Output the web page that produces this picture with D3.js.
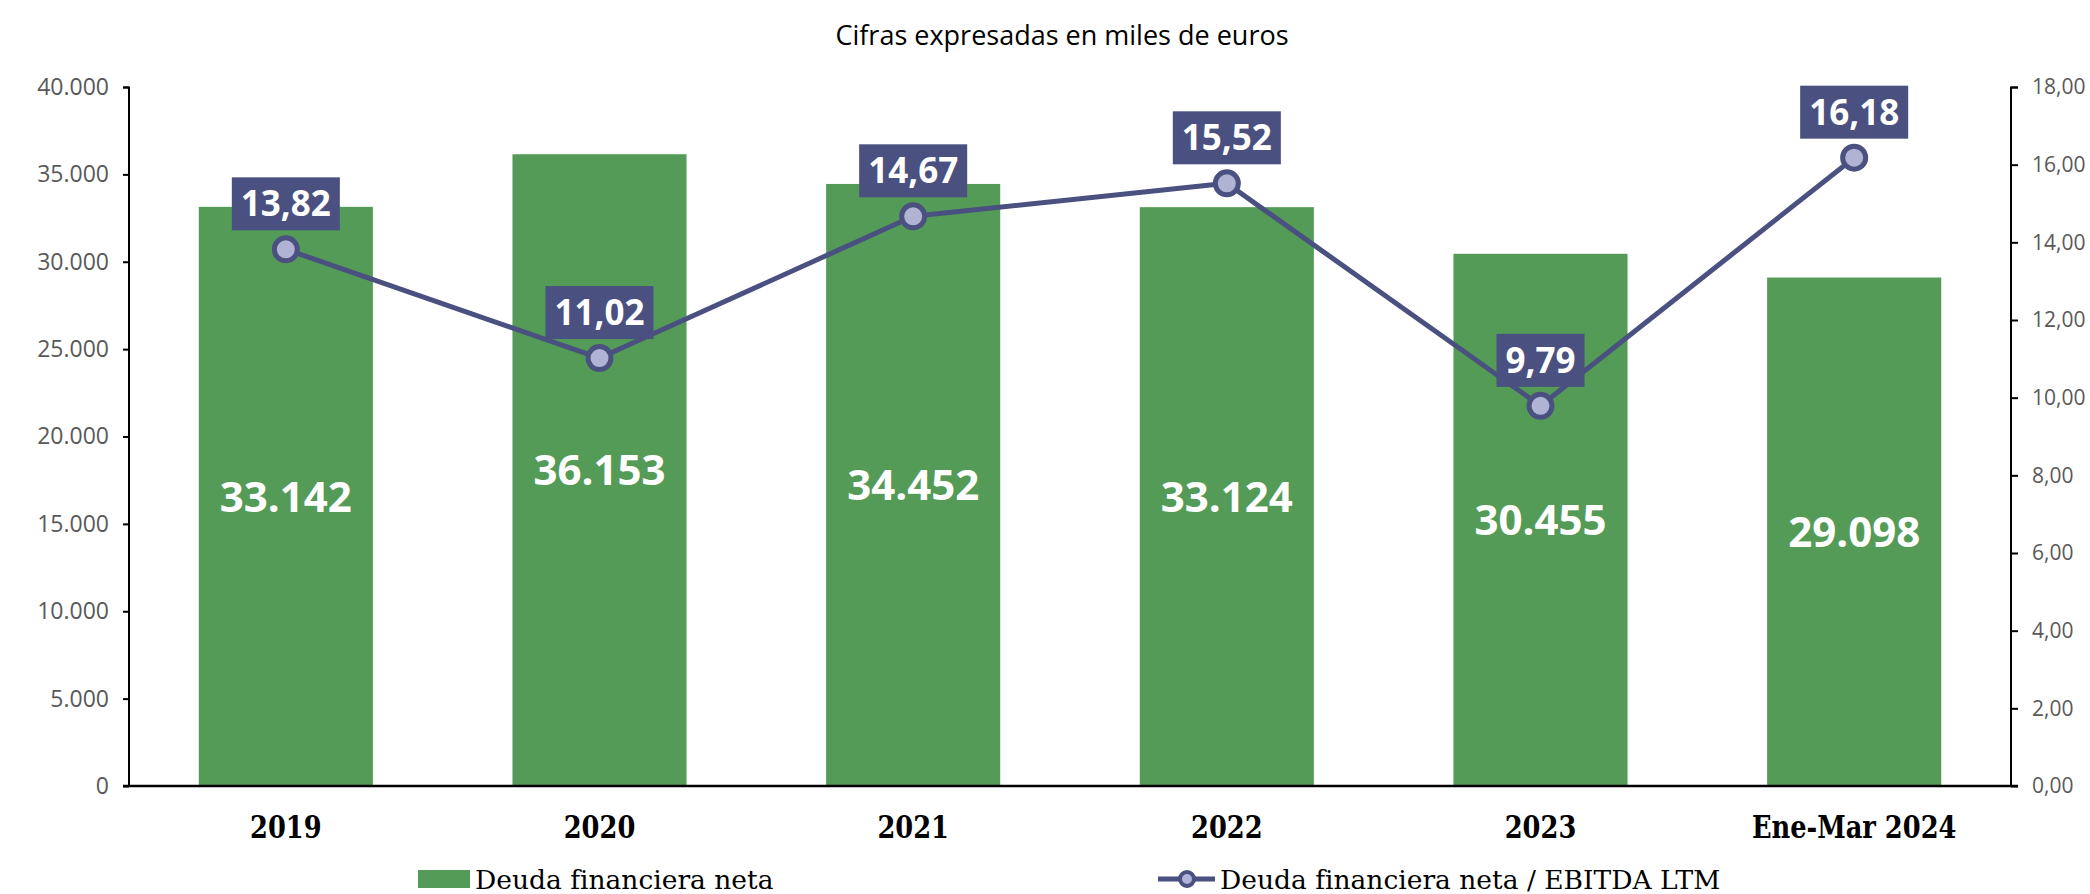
<!DOCTYPE html>
<html lang="es">
<head>
<meta charset="utf-8">
<script src="https://cdn.jsdelivr.net/npm/d3@7"></script>
<style>
  html, body { margin: 0; padding: 0; background: #ffffff; }
  svg { display: block; }
</style>
</head>
<body>
<svg id="chart" width="2090" height="894"></svg>
<script>
// Net financial debt (thousand euros) and net debt / EBITDA LTM ratio
const categories = ["2019", "2020", "2021", "2022", "2023", "Ene-Mar 2024"];
const deudaNeta = [33142, 36153, 34452, 33124, 30455, 29098];
const ratioEbitda = [13.82, 11.02, 14.67, 15.52, 9.79, 16.18];
const leftTicks = [0, 5000, 10000, 15000, 20000, 25000, 30000, 35000, 40000];
const rightTicks = [0, 2, 4, 6, 8, 10, 12, 14, 16, 18];
const titleText = "Cifras expresadas en miles de euros";
const legendBars = "Deuda financiera neta";
const legendLine = "Deuda financiera neta / EBITDA LTM";

const W = 2090, H = 894;
const margin = { top: 87, right: 79, bottom: 108, left: 129 };
const innerW = W - margin.left - margin.right;
const innerH = H - margin.top - margin.bottom;

const colors = {
  bar: "#559B58",
  line: "#4A5080",
  marker: "#B0B3D4",
  axis: "#000000",
  tick: "#595959"
};

const es = d3.formatLocale({ decimal: ",", thousands: ".", grouping: [3], currency: ["", " €"] });
const fmtInt = es.format(",.0f");
const fmtDec = es.format(",.2f");

const sansFont = "'Open Sans', 'Noto Sans', sans-serif";
const slabFont = "'DejaVu Serif', serif";

const svg = d3.select("#chart");
const g = svg.append("g").attr("transform", `translate(${margin.left},${margin.top})`);

const x = d3.scaleBand().domain(categories).range([0, innerW]).paddingInner(0.445).paddingOuter(0.2225);
const yL = d3.scaleLinear().domain([0, 40000]).range([innerH, 0]);
const yR = d3.scaleLinear().domain([0, 18]).range([innerH, 0]);

// Title
svg.append("text")
  .attr("x", 1062).attr("y", 45)
  .attr("text-anchor", "middle")
  .style("font-family", sansFont)
  .style("font-size", "27px")
  .attr("fill", "#000")
  .text(titleText);

// Bars
g.selectAll("rect.bar")
  .data(categories)
  .join("rect")
  .attr("class", "bar")
  .attr("x", d => x(d))
  .attr("width", x.bandwidth())
  .attr("y", (d, i) => yL(deudaNeta[i]))
  .attr("height", (d, i) => innerH - yL(deudaNeta[i]))
  .attr("fill", colors.bar);

// Bar value labels, centred in each bar
g.selectAll("text.barlabel")
  .data(categories)
  .join("text")
  .attr("class", "barlabel")
  .attr("x", d => x(d) + x.bandwidth() / 2)
  .attr("y", (d, i) => (yL(deudaNeta[i]) + innerH) / 2)
  .attr("dy", "0.36em")
  .attr("text-anchor", "middle")
  .style("font-family", sansFont)
  .style("font-weight", "700")
  .style("font-size", "42px")
  .attr("fill", "#ffffff")
  .text((d, i) => fmtInt(deudaNeta[i]));

// Left axis
const axisL = g.append("g")
  .call(d3.axisLeft(yL).tickValues(leftTicks).tickSize(6).tickPadding(14).tickFormat(fmtInt));
axisL.select(".domain").attr("stroke", colors.axis).attr("stroke-width", 2)
  .attr("d", `M-6,0.5H0V${innerH}`);
axisL.selectAll(".tick line").attr("stroke", colors.axis).attr("stroke-width", 2);
axisL.selectAll(".tick text")
  .attr("fill", colors.tick)
  .style("font-family", sansFont)
  .style("font-size", "23px");

// Right axis
const axisR = g.append("g")
  .attr("transform", `translate(${innerW},0)`)
  .call(d3.axisRight(yR).tickValues(rightTicks).tickSize(7).tickPadding(14).tickFormat(fmtDec));
axisR.select(".domain").attr("stroke", colors.axis).attr("stroke-width", 2)
  .attr("d", `M7,0.5H0V${innerH}`);
axisR.selectAll(".tick line").attr("stroke", colors.axis).attr("stroke-width", 2);
axisR.selectAll(".tick text")
  .attr("fill", colors.tick)
  .style("font-family", sansFont)
  .style("font-size", "21px");

// Bottom category axis (slab bold, slightly condensed)
const axisB = g.append("g")
  .attr("transform", `translate(0,${innerH})`)
  .call(d3.axisBottom(x).tickSize(0).tickPadding(30));
axisB.select(".domain").attr("stroke", colors.axis).attr("stroke-width", 2.5)
  .attr("d", `M-6,0H${innerW + 7}`);
axisB.selectAll(".tick text")
  .attr("fill", "#000")
  .attr("transform", "scale(0.83,1)")
  .style("font-family", slabFont)
  .style("font-weight", "700")
  .style("font-size", "31px");

// Ratio line
const cx = d => x(d) + x.bandwidth() / 2;
const line = d3.line()
  .x((d, i) => cx(categories[i]))
  .y(d => yR(d));
g.append("path")
  .datum(ratioEbitda)
  .attr("d", line)
  .attr("fill", "none")
  .attr("stroke", colors.line)
  .attr("stroke-width", 5)
  .attr("stroke-linejoin", "round");

g.selectAll("circle.pt")
  .data(ratioEbitda)
  .join("circle")
  .attr("class", "pt")
  .attr("cx", (d, i) => cx(categories[i]))
  .attr("cy", d => yR(d))
  .attr("r", 11.5)
  .attr("fill", colors.marker)
  .attr("stroke", colors.line)
  .attr("stroke-width", 5);

// Ratio value labels in filled boxes above each point
const lbl = g.selectAll("g.ratiolabel")
  .data(ratioEbitda)
  .join("g")
  .attr("class", "ratiolabel")
  .attr("transform", (d, i) => `translate(${cx(categories[i])},${yR(d) - 19})`);
lbl.append("text")
  .attr("x", 0)
  .attr("y", -26.5)
  .attr("dy", "0.36em")
  .attr("text-anchor", "middle")
  .style("font-family", sansFont)
  .style("font-weight", "700")
  .style("font-size", "35px")
  .attr("fill", "#ffffff")
  .text(d => fmtDec(d));
lbl.each(function () {
  const t = d3.select(this).select("text");
  const w = t.node().getComputedTextLength();
  d3.select(this).insert("rect", "text")
    .attr("x", -w / 2 - 9)
    .attr("y", -53)
    .attr("width", w + 18)
    .attr("height", 53)
    .attr("fill", colors.line);
});

// Legend
const legY = 879;
const leg = svg.append("g");
leg.append("rect")
  .attr("x", 418).attr("y", legY - 9)
  .attr("width", 52).attr("height", 18)
  .attr("fill", colors.bar);
leg.append("text")
  .attr("x", 475).attr("y", legY)
  .attr("dy", "0.36em")
  .style("font-family", slabFont)
  .style("font-size", "26.5px")
  .attr("fill", "#000")
  .text(legendBars);
leg.append("line")
  .attr("x1", 1158).attr("x2", 1215)
  .attr("y1", legY).attr("y2", legY)
  .attr("stroke", colors.line).attr("stroke-width", 5);
leg.append("circle")
  .attr("cx", 1187).attr("cy", legY).attr("r", 7)
  .attr("fill", colors.marker)
  .attr("stroke", colors.line).attr("stroke-width", 4);
leg.append("text")
  .attr("x", 1220).attr("y", legY)
  .attr("dy", "0.36em")
  .style("font-family", slabFont)
  .style("font-size", "26.5px")
  .attr("fill", "#000")
  .text(legendLine);
</script>
</body>
</html>
